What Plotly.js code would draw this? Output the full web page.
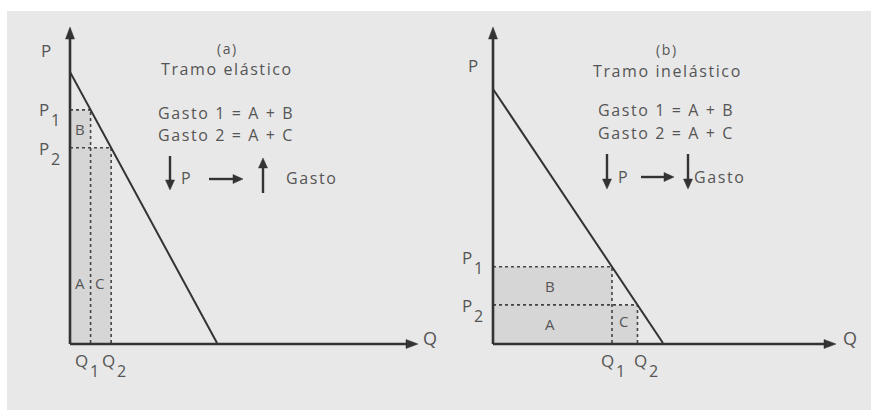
<!DOCTYPE html>
<html>
<head>
<meta charset="utf-8">
<script src="https://cdn.plot.ly/plotly-3.0.1.min.js"></script>
<style>
html,body{margin:0;padding:0;background:#fff;}
#chart{width:871px;height:410px;}
text.annotation-text{letter-spacing:1.6px;}
</style>
</head>
<body>
<div id="chart"></div>
<script>
// ---- data ----
const demandA_Q = [0, 5];
const demandA_P = [10, 0];
const pricesA = [8.6, 7.2];        // P1, P2
const quantitiesA = [0.7, 1.4];    // Q1, Q2
const demandB_Q = [0, 5];
const demandB_P = [10, 0];
const pricesB = [3.0, 1.5];
const quantitiesB = [3.5, 4.25];
const labelSubscripts = ['1', '2'];
const titlesA = ['(a)', 'Tramo elástico'];
const titlesB = ['(b)', 'Tramo inelástico'];
const equations = ['Gasto 1 = A + B', 'Gasto 2 = A + C'];
const areaLabels = ['A', 'B', 'C'];
const axisLetters = ['P', 'Q'];
const gastoWord = 'Gasto';

// ---- layout helpers ----
const W = 871, H = 410;
const px = x => x / W;
const py = y => 1 - y / H;
const TXT = '#555';
const INK = '#333';
const FONT = 'Open Sans, Noto Sans, sans-serif';

const shapes = [{
  type: 'rect', xref: 'paper', yref: 'paper', x0: px(7), x1: 1, y0: 0, y1: py(11),
  fillcolor: '#e8e8e8', line: {width: 0}, layer: 'below'
}];
const annotations = [];

// arrow drawn as line + triangular head, pixel positions converted to paper fractions
function arrow(tx, ty, hx, hy, lw, hl, hw) {
  const dx = hx - tx, dy = hy - ty, L = Math.hypot(dx, dy);
  const ux = dx / L, uy = dy / L, nx = -uy, ny = ux;
  const ex = hx - ux * hl * 0.6, ey = hy - uy * hl * 0.6;
  shapes.push({type: 'line', xref: 'paper', yref: 'paper', x0: px(tx), y0: py(ty), x1: px(ex), y1: py(ey),
    line: {color: INK, width: lw}});
  const bx = hx - ux * hl, by = hy - uy * hl;
  const p = [[hx, hy], [bx + nx * hw / 2, by + ny * hw / 2], [bx - nx * hw / 2, by - ny * hw / 2]];
  shapes.push({type: 'path', xref: 'paper', yref: 'paper',
    path: 'M' + p.map(q => px(q[0]) + ',' + py(q[1])).join(' L') + ' Z',
    fillcolor: INK, line: {color: INK, width: 0.5}});
}

function txt(xr, yr, x, y, t, size, opts) {
  annotations.push(Object.assign({xref: xr, yref: yr, x: x, y: y, xanchor: 'center', yanchor: 'middle',
    text: t, showarrow: false, font: {family: FONT, size: size, color: TXT}}, opts || {}));
}

function panel(xr, yr, P, Q, areaPos, pLetterY, qGroupX) {
  const fill = '#d6d6d6';
  const rect = (x0, x1, y0, y1) => shapes.push({type: 'rect', xref: xr, yref: yr, x0, x1, y0, y1,
    fillcolor: fill, line: {width: 0}, layer: 'below'});
  rect(0, Q[0], 0, P[1]);
  rect(0, Q[0], P[1], P[0]);
  rect(Q[0], Q[1], 0, P[1]);
  const dot = (x0, y0, x1, y1) => shapes.push({type: 'line', xref: xr, yref: yr, x0, y0, x1, y1,
    line: {color: '#444', width: 1.6, dash: 'dot'}, layer: 'below'});
  dot(0, P[0], Q[0], P[0]);
  dot(0, P[1], Q[1], P[1]);
  dot(Q[0], 0, Q[0], P[0]);
  dot(Q[1], 0, Q[1], P[1]);
  for (let i = 0; i < 2; i++) {
    // P_i label: letter + large subscript
    txt(xr, yr, 0, P[i], axisLetters[0], 17, {xshift: -25, yshift: pLetterY[i]});
    txt(xr, yr, 0, P[i], labelSubscripts[i], 16, {xshift: -14, yshift: pLetterY[i] - 10});
    // Q_i label
    txt(xr, yr, Q[i], 0, axisLetters[1], 17, {xshift: qGroupX[i] - 6, yshift: -17});
    txt(xr, yr, Q[i], 0, labelSubscripts[i], 16, {xshift: qGroupX[i] + 7, yshift: -28});
  }
  for (let i = 0; i < 3; i++) {
    txt(xr, yr, areaPos[i][0], areaPos[i][1], areaLabels[i], 15);
  }
}

panel('x', 'y', pricesA, quantitiesA,
  [[quantitiesA[0] / 2, 2.2], [quantitiesA[0] / 2, (pricesA[0] + pricesA[1]) / 2], [(quantitiesA[0] + quantitiesA[1]) / 2, 2.2]],
  [0, -1], [-2, 4]);
panel('x2', 'y2', pricesB, quantitiesB,
  [[quantitiesB[0] * 0.48, pricesB[1] / 2], [quantitiesB[0] * 0.48, (pricesB[0] + pricesB[1]) / 2], [(quantitiesB[0] + quantitiesB[1]) / 2, pricesB[1] / 2 + 0.1]],
  [9, -1], [3, 10]);

// coordinate axes with arrowheads (panel a, panel b)
arrow(70, 344, 418, 344, 2.6, 12, 9);
arrow(70, 344, 70, 27, 2.6, 12, 9);
arrow(493, 344, 836, 344, 2.6, 12, 9);
arrow(493, 344, 493, 27, 2.6, 12, 9);

// axis letters
txt('paper', 'paper', px(47), py(50), axisLetters[0], 17);
txt('paper', 'paper', px(474), py(65), axisLetters[0], 17);
txt('paper', 'paper', px(431), py(338), axisLetters[1], 18);
txt('paper', 'paper', px(851), py(338), axisLetters[1], 18);

// text blocks
function textBlock(cx, titles, yTitle, eqX, eqY) {
  txt('paper', 'paper', px(cx), py(yTitle[0]), titles[0], 14);
  txt('paper', 'paper', px(cx), py(yTitle[1]), titles[1], 16);
  for (let i = 0; i < 2; i++) {
    txt('paper', 'paper', px(eqX), py(eqY[i]), equations[i], 16, {xanchor: 'left'});
  }
}
textBlock(227, titlesA, [48, 69], 156, [113, 135]);
textBlock(667, titlesB, [49, 71], 596, [110, 133]);

// panel (a): down P -> up Gasto
arrow(170, 156, 170, 190, 2.4, 10, 9);
txt('paper', 'paper', px(179), py(178), axisLetters[0], 16, {xanchor: 'left'});
arrow(209, 179, 243, 179, 2.4, 10, 9);
arrow(263, 193, 263, 158, 2.4, 10, 9);
txt('paper', 'paper', px(284), py(178), gastoWord, 16, {xanchor: 'left'});
// panel (b): down P -> down Gasto
arrow(607, 154, 607, 189, 2.4, 10, 9);
txt('paper', 'paper', px(616), py(177), axisLetters[0], 16, {xanchor: 'left'});
arrow(641, 177, 674, 177, 2.4, 10, 9);
arrow(688, 154, 688, 189, 2.4, 10, 9);
txt('paper', 'paper', px(692), py(177), gastoWord, 16, {xanchor: 'left'});

const traces = [
  {x: demandA_Q, y: demandA_P, xaxis: 'x', yaxis: 'y', mode: 'lines', line: {color: INK, width: 2}, hoverinfo: 'skip'},
  {x: demandB_Q, y: demandB_P, xaxis: 'x2', yaxis: 'y2', mode: 'lines', line: {color: INK, width: 2}, hoverinfo: 'skip'}
];

const ax = (dom, rng, anchor) => ({domain: dom, range: rng, visible: false, fixedrange: true, anchor: anchor});
const layout = {
  width: W, height: H, margin: {l: 0, r: 0, t: 0, b: 0},
  paper_bgcolor: '#fff', plot_bgcolor: 'rgba(0,0,0,0)', showlegend: false,
  xaxis: ax([px(70), px(417)], [0, 11.8], 'y'),
  yaxis: ax([py(343), py(28)], [0, 11.62], 'x'),
  xaxis2: ax([px(493), px(835)], [0, 10.06], 'y2'),
  yaxis2: ax([py(343), py(28)], [0, 12.4], 'x2'),
  shapes: shapes, annotations: annotations
};
Plotly.newPlot('chart', traces, layout, {staticPlot: true, displayModeBar: false});
</script>
</body>
</html>
